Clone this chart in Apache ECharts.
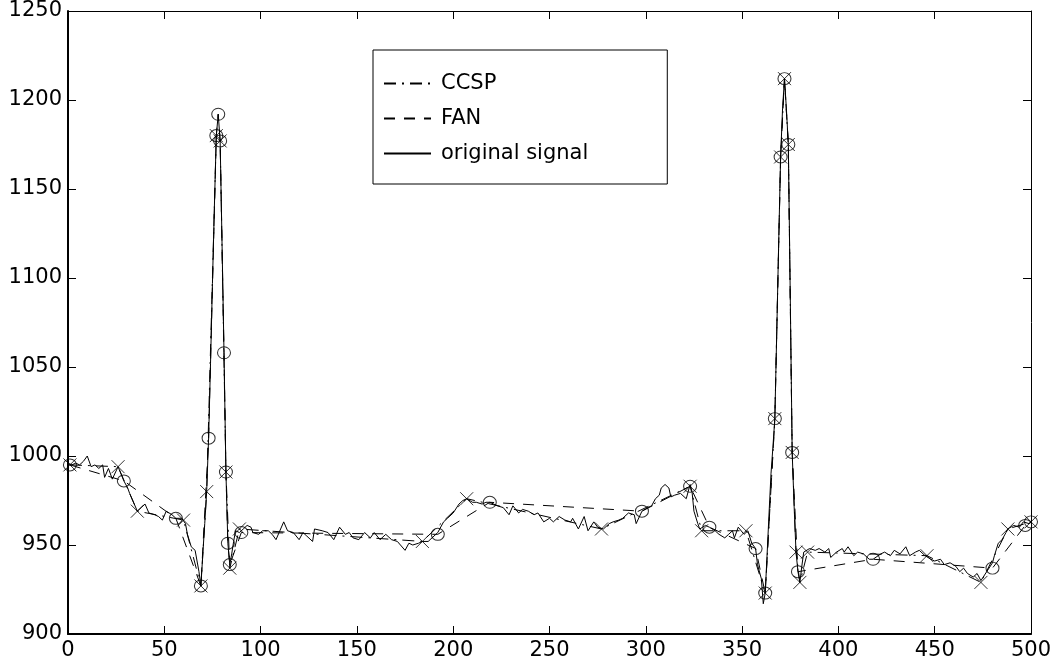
<!DOCTYPE html>
<html>
<head>
<meta charset="utf-8">
<script src="https://cdn.jsdelivr.net/npm/echarts@6/dist/echarts.min.js"></script>
<style>
  html, body { margin: 0; padding: 0; background: #fff; }
  #chart { width: 1058px; height: 667px; }
</style>
</head>
<body>
<div id="chart"></div>
<script>
// original signal (sample index / value)
const origX = [0, 2, 4, 6, 8, 10, 12, 14, 16, 18, 19, 21, 23, 26, 29, 31, 32, 34, 36, 38,
  40, 42, 45, 47, 49, 51, 54, 56, 59, 61, 62, 64, 66, 68, 69, 70, 71, 72, 73, 74,
  75, 76, 77, 78, 79, 80, 81, 82, 83, 84, 85, 86, 87, 88, 89, 91, 93, 95, 96, 99,
  101, 102, 104, 106, 108, 112, 114, 117, 120, 122, 124, 127, 128, 132, 135, 138, 141, 144, 146, 148,
  151, 154, 157, 159, 162, 165, 168, 171, 172, 175, 177, 179, 182, 184, 187, 190, 192, 195, 197, 200,
  203, 205, 207, 210, 212, 215, 217, 219, 223, 226, 229, 231, 234, 236, 239, 242, 244, 247, 250, 252,
  255, 258, 261, 262, 265, 268, 270, 273, 275, 278, 281, 283, 286, 288, 291, 294, 295, 298, 301, 303,
  305, 307, 308, 310, 312, 313, 315, 318, 321, 323, 324, 325, 327, 328, 331, 333, 336, 338, 341, 343,
  345, 346, 348, 351, 353, 355, 357, 358, 360, 361, 362, 363, 364, 365, 366, 367, 368, 369, 370, 371,
  372, 373, 374, 375, 376, 377, 378, 379, 380, 381, 382, 385, 388, 390, 393, 395, 396, 399, 402, 403,
  405, 408, 410, 413, 416, 418, 422, 424, 427, 429, 432, 435, 437, 440, 442, 445, 448, 450, 453, 455,
  458, 461, 463, 465, 467, 470, 472, 474, 477, 480, 481, 483, 485, 487, 488, 491, 494, 496, 499, 500];
const origY = [996, 995, 996, 995, 997, 1000, 994, 995, 993, 995, 988, 993, 987, 994, 986, 982, 979, 974, 969, 971,
  973, 968, 967, 966, 964, 969, 967, 965, 965, 962, 956, 949, 947, 935, 927, 945, 962, 980, 1010, 1052,
  1097, 1140, 1180, 1192, 1177, 1118, 1058, 991, 951, 939, 945, 952, 958, 959, 957, 959, 961, 960, 957, 956,
  958, 957, 958, 956, 953, 963, 958, 957, 953, 957, 955, 952, 959, 958, 957, 953, 960, 956, 957, 954,
  953, 957, 954, 957, 953, 956, 953, 952, 953, 947, 951, 950, 951, 952, 952, 955, 957, 963, 965, 968,
  973, 975, 976, 974, 974, 973, 974, 974, 972, 971, 967, 972, 968, 970, 969, 967, 968, 963, 965, 963,
  966, 964, 963, 965, 959, 966, 958, 963, 960, 959, 962, 963, 964, 965, 968, 967, 962, 969, 971, 972,
  976, 978, 982, 984, 982, 977, 978, 979, 976, 984, 980, 969, 962, 959, 961, 960, 958, 956, 954, 956,
  958, 954, 960, 956, 958, 951, 948, 939, 931, 917, 923, 945, 968, 990, 1005, 1021, 1070, 1120, 1168, 1195,
  1212, 1195, 1175, 1090, 1002, 972, 946, 935, 929, 938, 946, 948, 947, 948, 946, 948, 943, 946, 948, 946,
  949, 944, 946, 945, 942, 942, 945, 946, 944, 947, 945, 949, 944, 946, 947, 944, 942, 941, 942, 939,
  940, 938, 935, 937, 934, 932, 934, 930, 935, 940, 944, 951, 953, 957, 959, 961, 960, 963, 962, 963];

// CCSP kept samples (x markers, dash-dot line)
const ccspX = [1, 26, 36, 60, 69, 72, 77, 79, 82, 84, 89, 184, 207, 277, 323, 329, 352, 362, 367, 370,
  372, 374, 376, 378, 380, 384, 446, 474, 488, 500];
const ccspY = [995, 994, 969, 964, 927, 980, 1180, 1177, 991, 937, 959, 952, 976, 959, 983, 958, 958, 923, 1021, 1168,
  1212, 1175, 1002, 946, 929, 946, 944, 929, 959, 963];

// FAN kept samples (circle markers, dashed line)
const fanX = [1, 29, 56, 69, 73, 77, 78, 79, 81, 82, 83, 84, 90, 192, 219, 298, 323, 333, 357, 362,
  367, 370, 372, 374, 376, 379, 418, 480, 497, 500];
const fanY = [995, 986, 965, 927, 1010, 1180, 1192, 1177, 1058, 991, 951, 939, 957, 956, 974, 969, 983, 960, 948, 923,
  1021, 1168, 1212, 1175, 1002, 935, 942, 937, 961, 963];

const names = ['CCSP', 'FAN', 'original signal'];

const pairs = (xs, ys) => xs.map((x, i) => [x, ys[i]]);
const ccsp = pairs(ccspX, ccspY);
const fan = pairs(fanX, fanY);
const orig = pairs(origX, origY);

const font = 'DejaVu Sans';
const crossPath = 'path://M0,0L10,10M10,0L0,10';
const ringPath = 'path://M0,5A5,5 0 1,0 10,5A5,5 0 1,0 0,5Z';

const chart = echarts.init(document.getElementById('chart'));

const mainAxis = (pos) => ({
  type: 'value',
  position: pos,
  axisLine: { show: true, onZero: false, lineStyle: { color: '#000', width: 2 } },
  axisTick: { show: true, inside: true, length: 8, lineStyle: { color: '#000', width: 1 } },
  splitLine: { show: false },
  axisLabel: { color: '#000', fontFamily: font, fontSize: 21, margin: 6, formatter: (v) => String(v) }
});
const boxAxis = (pos) => ({
  type: 'value',
  position: pos,
  axisLine: { show: true, onZero: false, lineStyle: { color: '#000', width: 1 } },
  axisTick: { show: true, inside: true, length: 8, lineStyle: { color: '#000', width: 1 } },
  splitLine: { show: false },
  axisLabel: { show: false }
});

chart.setOption({
  animation: false,
  backgroundColor: '#fff',
  grid: { left: 68, right: 27, top: 11, bottom: 33, containLabel: false, outerBoundsMode: 'none' },
  xAxis: [
    Object.assign(mainAxis('bottom'), { min: 0, max: 500, interval: 50 }),
    Object.assign(boxAxis('top'), { min: 0, max: 500, interval: 50 })
  ],
  yAxis: [
    Object.assign(mainAxis('left'), { min: 900, max: 1250, interval: 50 }),
    Object.assign(boxAxis('right'), { min: 900, max: 1250, interval: 50 })
  ],
  legend: {
    data: names,
    orient: 'vertical',
    left: 373,
    top: 50,
    padding: [23, 79, 20, 10],
    itemWidth: 47,
    itemHeight: 14,
    itemGap: 14,
    borderColor: '#000',
    borderWidth: 1,
    backgroundColor: '#fff',
    selectedMode: false,
    itemStyle: { opacity: 0 },
    textStyle: { color: '#000', fontFamily: font, fontSize: 21, lineHeight: 21, padding: [0, 0, 0, 5] }
  },
  series: [
    {
      name: 'CCSP', type: 'line', data: ccsp, symbol: 'none',
      itemStyle: { color: '#000' },
      lineStyle: { color: '#000', width: 1, type: [12, 6, 2, 6] }
    },
    {
      name: 'FAN', type: 'line', data: fan, symbol: 'none',
      itemStyle: { color: '#000' },
      lineStyle: { color: '#000', width: 1, type: [11, 9] }
    },
    {
      name: 'original signal', type: 'line', data: orig, symbol: 'none',
      itemStyle: { color: '#000' },
      lineStyle: { color: '#000', width: 1 }
    },
    {
      name: 'ccsp-pts', type: 'scatter', data: ccsp, symbol: crossPath, symbolSize: [13, 13],
      itemStyle: { color: 'none', borderColor: '#000', borderWidth: 1 }
    },
    {
      name: 'fan-pts', type: 'scatter', data: fan, symbol: ringPath, symbolSize: [13, 12],
      itemStyle: { color: 'none', borderColor: '#000', borderWidth: 1 }
    }
  ]
});
</script>
</body>
</html>
